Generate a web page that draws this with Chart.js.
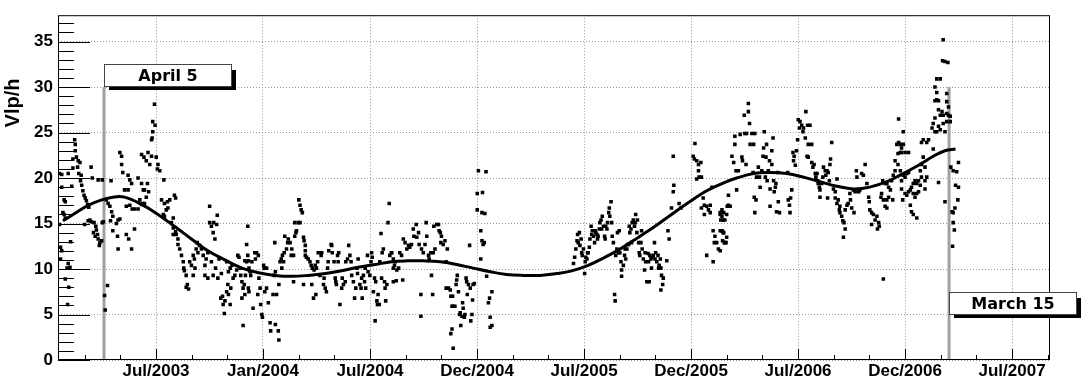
<!DOCTYPE html>
<html>
<head>
<meta charset="utf-8">
<script src="https://cdn.jsdelivr.net/npm/chart.js@4.4.0/dist/chart.umd.min.js"></script>
<style>
  html, body { margin: 0; padding: 0; background: #fff; }
</style>
</head>
<body>
<canvas id="vlpChart" width="1087" height="379"></canvas>
<script>
// x values are days counted from 1 Jan 2003
const xMin = 15.6, xMax = 1706;
const yMin = 0, yMax = 37.9;

const tickDays = [182.6, 364.9, 547.3, 729.6, 912.0, 1094.3, 1276.6, 1459.0, 1641.3];
const tickLabels = ['Jul/2003', 'Jan/2004', 'Jul/2004', 'Dec/2004', 'Jul/2005', 'Dec/2005', 'Jul/2006', 'Dec/2006', 'Jul/2007'];
const vlpTicks = [0, 5, 10, 15, 20, 25, 30, 35];

const markerDays = [94, 1534];
const markerNames = ['April 5', 'March 15'];
const markerTop = 30;

// daily Vlp/h readings, [day, value]
const obs2003 = [
  [18,20.5],[22,20.4],[33,20.5],[22,19.0],[39,19.1],[26,17.6],[28,17.4],[24,16.2],[26,16.0],[28,15.6],[18,14.9],[37,13.0],[20,12.4],[22,12.0],[20,11.1],[33,10.6],[36,10.2],[31,10.1],[28,8.9],[34,8.0],[32,6.1],
  [44,24.2],[45,23.7],[45,23.0],[41,22.1],[47,22.3],[50,21.9],[53,21.7],[41,21.1],[49,21.2],[51,20.5],[55,20.3],[54,19.7],[56,19.2],[58,18.6],[60,18.1],[62,17.8],[64,17.5],[66,17.1],[68,16.8],[72,21.2],[74,20.0],[91,19.8],[84,19.8],
  [61,14.9],[67,15.3],[72,15.2],[77,15.1],[80,14.7],[81,14.3],[83,13.8],[84,13.3],[87,12.9],[90,13.1],[91,15.1],[93,15.2],[76,14.0],[79,13.6],[70,15.4],[86,12.6],
  [95,7.1],[96,5.5],[100,8.2],
  [98,17.6],[101,17.2],[104,16.9],[107,16.3],[109,15.8],[115,15.0],[118,15.4],[117,13.6],[118,12.2],[121,15.5],[106,19.7],[105,15.3],[109,14.2],[132,13.8],[136,13.3],[141,12.2],[146,14.4],
  [121,22.8],[124,22.4],[124,21.5],[126,20.6],[135,20.3],[138,19.8],[141,19.4],[135,18.7],[129,18.7],[132,16.9],[138,17.0],[142,16.6],[146,16.6],[152,16.6],[155,17.6],[158,17.1],[160,17.2],[163,17.2],[166,17.9],[152,20.0],[158,19.4],[161,18.7],[168,19.4],[163,18.7],[170,18.5],[158,22.6],[162,22.3],[169,22.8],[175,22.4],[166,21.9],[172,21.5],
  [180,28.1],[177,26.2],[181,25.8],[177,25.1],[176,24.4],[175,24.2],[183,22.3],[186,21.5],[185,21.0],[189,20.8],[196,19.8],
  [192,17.6],[197,17.2],[202,17.4],[206,17.6],[214,18.1],[216,17.8],[203,16.7],[195,16.0],[197,15.8],[200,16.5],[212,15.6],[209,15.1],[212,14.5],[216,14.1],[217,13.8],[212,13.8],[220,13.3],[220,12.7],[223,12.2],[226,11.5],[229,10.8],[230,10.1],[231,9.8],[234,9.3],[236,8.3],[238,7.8],[234,8.0],
  [240,10.8],[243,10.4],[246,11.5],[248,11.1],[249,10.1],[246,9.3],[251,12.2],[254,11.8],[257,12.6],[260,12.2],[253,12.9],[263,11.5],[266,10.4],[268,11.1],[271,11.8],[274,16.9],[274,15.1],[277,14.7],[280,14.0],[283,13.3],[286,14.9],[287,15.9],[281,15.1],
  [266,9.3],[271,9.0],[277,10.8],[280,9.3],[284,10.1],[288,9.0],[290,11.1],[294,9.5],[296,7.0],[300,6.5],[299,5.1],[293,6.8],[297,6.1]
];

const obs2004 = [
  [303,10.8],[306,9.7],[309,10.1],[312,10.4],[305,8.3],[303,7.5],[306,7.2],[309,6.1],[310,7.9],[314,9.0],[317,9.3],[320,9.9],[322,11.5],[324,11.3],[326,10.1],[327,9.3],[329,8.6],[331,7.9],[333,8.3],[334,7.2],[335,9.3],[337,12.7],[339,14.7],[339,11.5],[340,10.9],[341,10.1],[343,9.7],[344,9.3],[340,7.9],[341,7.5],[329,6.8],[331,3.8],[337,10.8],[334,10.9],[346,10.8],[348,5.7],
  [351,11.8],[352,11.1],[354,11.8],[357,11.5],[358,9.0],[356,7.2],[360,7.9],[361,6.1],[363,5.0],[364,4.7],[366,10.4],[367,10.1],[368,7.5],[371,10.1],[371,7.9],[374,6.3],[377,4.1],[378,3.2],[382,7.2],[384,9.3],[385,12.9],[386,9.7],[386,3.9],[388,7.2],[391,3.2],[392,2.2],[392,8.3],[394,10.8],[396,11.1],[397,10.1],[398,11.5],[400,10.8],
  [401,11.8],[402,13.6],[405,12.2],[407,12.9],[408,13.3],[411,12.9],[413,11.5],[414,12.2],[417,11.5],[417,8.6],[419,13.6],[421,14.0],[422,14.2],[419,15.1],[425,15.1],[428,15.1],[426,17.6],[428,17.0],[430,16.5],[432,16.2],[434,13.5],[435,13.1],[437,12.6],[437,12.0],[434,8.3],[437,11.5],[439,11.3],[442,11.1],[445,10.8],[447,10.4],[448,8.3],[449,10.1],[451,6.8],[452,9.9],[454,10.4],[455,7.2],[456,10.1],[458,10.8],[459,11.8],
  [462,9.3],[464,11.5],[465,11.8],[468,8.3],[469,9.0],[471,7.9],[473,7.5],[475,10.1],[476,10.8],[477,12.0],[481,12.7],[482,12.6],[483,11.8],[486,10.8],[488,9.0],[489,8.6],[490,8.3],[492,11.5],[493,10.8],[494,11.8],[496,6.1],[499,7.9],[500,9.0],[502,8.3],[505,8.6],[506,10.8],[509,11.1],[511,12.6],[513,11.5],[515,10.8],[516,9.3],[519,8.6],[521,6.8],[523,7.9],[525,10.1],[526,9.5],[527,11.1],
  [530,8.3],[532,7.9],[533,9.0],[534,6.8],[536,9.3],[538,8.6],[539,10.1],[540,7.9],[543,11.5],[544,9.7],[547,9.3],[549,10.8],[550,11.8],[551,11.3],[553,7.5],[555,9.0],[556,4.3],[557,8.6],[559,6.5],[560,6.1],[561,7.2],[563,6.1],[564,10.8],[566,13.9],[567,9.0],[568,11.8],[570,12.2],[572,8.6],[573,7.9],[574,6.5],[576,8.3],[578,15.1],[580,17.2],[581,11.5],[584,11.8],[587,10.1],[589,10.4],[587,8.6]
];

const obs2004b = [
  [584,11.8],[587,11.1],[590,10.8],[593,9.9],[596,10.1],[592,8.7],[603,8.8],[598,11.8],[601,11.5],[604,13.3],[607,12.9],[610,12.2],[613,12.6],[615,12.4],[618,12.7],[621,14.4],[622,13.6],[626,14.9],[627,13.5],[630,14.0],[631,12.7],[634,7.2],[634,4.8],[635,12.2],[638,11.8],[641,12.7],[643,15.1],[644,13.6],[647,11.5],[648,11.1],[651,11.8],[652,9.3],[654,7.2],[655,11.8],[656,14.7],[658,12.2],[661,14.9],[664,14.9],[665,14.2],[667,14.0],[668,12.9],[669,13.6],[672,12.7],[675,13.1],[677,10.8],[679,12.2],
  [677,7.9],[681,7.9],[684,7.7],[685,7.0],[687,5.9],[688,7.0],[689,5.9],[687,3.4],[685,2.9],[689,1.3],[692,5.9],[694,8.3],[695,8.8],[696,9.3],[698,7.5],[700,5.0],[701,5.2],[702,3.8],[704,4.8],[705,6.3],[706,5.7],[708,4.7],[709,5.0],[711,9.0],[712,8.6],[713,7.2],[715,8.3],[717,12.6],[718,7.9],[719,4.3],[721,5.0],[722,6.6],[723,8.3],[725,8.4],
  [732,20.8],[745,20.7],[730,18.3],[739,18.4],[730,16.5],[738,16.2],[743,16.1],[736,14.2],[738,13.1],[740,12.7],[742,12.9],[736,11.1],[746,9.2],[749,6.3],[751,6.8],[755,7.5],[752,4.7],[755,3.8],[752,3.6]
];

const obs2005 = [
  [894,10.6],[896,11.3],[898,12.2],[900,13.1],[901,13.8],[902,12.9],[904,14.0],[905,12.6],[907,13.3],[908,11.8],[909,11.5],[911,12.2],[913,9.5],[914,10.8],[915,11.3],[917,11.1],[918,11.8],[919,11.8],[921,12.4],[922,13.3],[924,14.7],[925,13.8],[926,14.2],[928,13.6],[930,12.9],[931,14.2],[932,14.0],[934,13.8],[935,13.3],[936,13.6],[938,14.4],[939,15.1],[941,15.4],[942,14.4],[943,15.8],[945,14.7],[947,13.6],[948,13.3],[949,14.7],[951,14.4],[952,15.1],[954,16.2],[955,16.7],[956,15.8],[958,17.4],[959,15.1],[960,13.6],[962,12.9],
  [964,7.2],[965,6.5],[966,11.5],[968,12.2],[969,14.0],[971,11.8],[972,14.2],[973,11.8],[975,10.8],[976,9.9],[976,9.2],[979,10.4],[981,11.5],[982,12.2],[983,11.1],[985,12.2],[986,12.7],[988,12.7],[989,14.7],[990,14.0],[992,14.4],[993,12.9],[994,15.1],[996,15.4],[998,14.7],[999,15.1],[1000,16.0],[1002,14.0],[1003,15.4],[1005,12.9],[1006,11.8],[1007,11.5],[1009,12.9],[1010,14.2],[1011,12.2],
  [1013,11.1],[1015,9.9],[1016,11.8],[1017,10.8],[1019,8.6],[1021,11.7],[1022,10.8],[1023,8.6],[1024,11.5],[1026,11.1],[1027,10.1],[1028,11.3],[1030,11.5],[1032,12.9],[1033,11.1],[1034,11.8],[1036,10.8],[1038,11.5],[1039,10.1],[1040,10.4],[1042,11.1],[1043,10.1],[1044,9.3],[1046,8.3],[1047,9.0],[1043,7.7],
  [1053,10.9],[1055,14.2],[1057,13.3],[1061,16.7],[1064,18.5],[1065,19.2],[1064,22.4],[1074,17.2],[1077,16.7],
  [1101,23.8],[1098,22.4],[1100,22.1],[1104,21.9],[1107,21.5],[1111,21.7],[1107,20.8],[1108,20.1],[1112,20.1],[1104,19.9],[1115,17.8],[1112,16.7],[1117,17.0],[1121,16.9],[1124,16.5],[1127,17.0],[1130,19.0],[1117,16.0],[1127,16.2],[1132,14.2],[1135,13.6],[1134,12.9],[1138,12.9],[1141,12.2],[1121,11.5],[1132,10.8],[1144,16.2],[1147,16.5],[1145,15.4],[1149,15.4],[1147,14.2],[1149,14.0],[1151,12.9],[1144,14.2]
];

const obs2006 = [
  [1144,16.0],[1147,15.8],[1150,16.2],[1152,15.4],[1155,16.0],[1156,16.9],[1158,17.0],[1161,16.9],[1147,14.2],[1150,14.0],[1152,12.9],[1155,13.5],[1148,13.1],[1154,12.9],[1144,12.0],
  [1158,18.1],[1164,22.4],[1167,21.7],[1169,24.6],[1169,23.7],[1171,20.8],[1172,18.7],[1175,20.8],[1178,24.8],[1181,22.3],[1182,21.9],[1185,26.9],[1186,24.9],[1188,21.5],[1189,24.9],[1192,27.3],[1192,28.2],[1194,26.0],[1195,23.7],[1198,24.9],[1201,23.7],[1203,24.9],[1200,20.6],[1202,17.9],[1205,17.6],[1203,16.2],
  [1206,20.1],[1209,21.2],[1211,20.1],[1212,19.0],[1215,20.8],[1217,22.4],[1218,23.3],[1219,25.1],[1221,20.1],[1222,22.3],[1223,23.7],[1224,19.7],[1226,20.8],[1228,21.9],[1229,18.8],[1229,16.9],[1232,23.0],[1232,21.5],[1234,24.4],[1235,19.7],[1236,18.5],[1238,19.0],[1239,19.4],[1240,16.3],[1242,20.6],[1243,17.4],[1245,16.2],
  [1259,20.6],[1260,17.6],[1262,17.0],[1263,16.2],[1264,17.8],[1266,18.7],[1268,22.8],[1269,21.9],[1270,22.4],[1272,21.4],[1274,23.0],[1276,24.2],[1277,26.4],[1279,25.5],[1280,26.2],[1283,25.8],[1285,25.1],[1286,25.5],[1289,24.4],[1290,27.3],[1293,25.8],[1294,23.7],[1297,25.8],[1300,23.7],[1292,22.4],[1294,22.3],[1300,21.7],[1302,21.2],[1304,21.5],
  [1306,20.5],[1307,20.1],[1309,20.5],[1310,19.7],[1311,19.4],[1313,19.0],[1314,17.9],[1314,18.7],[1317,19.4],[1319,20.1],[1320,21.2],[1323,20.8],[1324,20.3],[1326,20.8],[1328,20.6],[1327,17.8],[1330,19.7],[1331,21.5],[1332,22.1],[1334,23.9],[1337,18.8],[1340,18.5],[1343,19.9],[1340,17.8],[1343,17.2],[1345,17.6],[1348,16.9],[1347,16.5],[1348,16.2],[1351,15.8],[1353,15.3],[1355,15.1],[1357,14.4],[1354,13.5],
  [1357,16.5],[1360,17.0],[1362,17.2],[1365,18.3],[1366,17.6],[1368,16.7],[1371,18.7],[1372,16.2],[1374,18.5],[1376,20.8],[1377,20.1],[1380,18.5],[1382,18.7],[1385,20.5],[1388,20.3],[1391,21.5],[1394,19.4],[1397,17.9],[1398,17.4],[1399,16.5],[1402,16.2],[1405,16.0],[1408,15.4],[1411,15.8],[1412,14.4],[1414,15.1],[1415,14.7],[1418,17.9],[1419,18.3],[1421,19.7],[1422,17.6],[1425,19.4],[1425,16.9],[1422,8.9],[1402,14.9]
];

const obs2007 = [
  [1428,19.4],[1431,19.0],[1434,18.7],[1428,17.6],[1431,17.9],[1436,19.7],[1439,20.3],[1442,20.8],[1438,17.6],[1428,16.7],[1448,26.5],[1456,25.1],[1445,23.7],[1448,23.9],[1451,23.7],[1453,23.3],[1456,23.7],[1447,22.7],[1451,22.8],[1453,22.8],[1459,22.8],[1465,22.8],[1442,21.9],[1447,21.5],[1451,20.8],[1453,19.7],[1456,20.3],[1459,20.1],[1462,20.5],[1465,20.6],
  [1453,18.8],[1455,17.6],[1459,18.3],[1462,18.1],[1465,18.5],[1468,18.7],[1470,19.0],[1473,19.4],[1476,19.7],[1479,19.4],[1482,19.7],[1473,18.3],[1476,17.9],[1479,18.3],[1482,18.5],[1485,20.8],[1487,21.5],[1490,22.3],[1493,21.2],[1485,19.2],[1487,20.1],[1493,19.7],[1496,20.1],[1493,18.8],[1468,17.0],[1470,16.3],[1473,16.0],[1479,15.6],
  [1487,23.9],[1490,24.2],[1496,23.9],[1499,24.2],[1507,23.2],[1505,25.5],[1510,25.1],[1513,25.1],[1516,25.7],[1519,25.3],[1524,26.0],[1527,25.1],[1530,26.2],[1507,26.0],[1510,26.6],[1516,27.5],[1519,26.9],[1522,27.3],[1524,26.9],[1530,27.1],[1533,26.9],[1536,26.8],[1536,26.2],
  [1510,28.5],[1513,28.6],[1516,28.5],[1513,29.4],[1510,30.0],[1513,30.9],[1519,30.9],[1523,32.9],[1527,32.8],[1532,32.7],[1524,35.2],[1530,29.3],[1530,28.4],[1533,27.8],[1516,19.5],[1527,17.4],
  [1537,21.2],[1541,20.8],[1547,20.7],[1550,21.7],[1545,19.2],[1550,19.0],[1549,17.6],[1544,16.7],[1541,16.2],[1539,16.3],[1541,15.1],[1543,14.3],[1540,12.5]
];

// smooth fit through the readings, [day, value]
const fitCurve = [
  [24,15.3],[44,16.1],[67,17.0],[90,17.6],[109,17.9],[129,17.9],[158,17.1],[186,16.0],[214,14.7],[243,13.3],[271,12.0],[300,11.0],
  [329,10.1],[357,9.6],[385,9.3],[414,9.2],[442,9.3],[471,9.5],[499,9.8],[527,10.2],[556,10.5],[584,10.8],[610,10.9],[638,10.9],
  [667,10.8],[695,10.5],[723,10.1],[752,9.7],[780,9.4],[809,9.3],[837,9.3],[865,9.5],[891,9.8],[919,10.4],[948,11.3],[976,12.3],
  [1005,13.5],[1033,14.7],[1061,16.0],[1090,17.3],[1118,18.5],[1147,19.4],[1172,20.0],[1201,20.5],[1229,20.6],[1257,20.5],[1286,20.1],
  [1314,19.6],[1343,19.1],[1371,18.8],[1399,19.0],[1428,19.6],[1453,20.4],[1482,21.4],[1510,22.5],[1527,23.0],[1545,23.2]
];

const toXY = pairs => pairs.map(([d, v]) => ({ x: d, y: v }));
const observations = toXY([].concat(obs2003, obs2004, obs2004b, obs2005, obs2006, obs2007));

const tickFont = { family: 'Liberation Sans', size: 17, weight: 'bold' };

// inward ticks, frame, axis title and the two date tags
const rootFrame = {
  id: 'rootFrame',
  beforeDatasetsDraw(chart) {
    const { ctx, chartArea: a, scales: { x, y } } = chart;
    ctx.save();
    ctx.strokeStyle = '#000';
    ctx.lineWidth = 1;
    ctx.beginPath();
    for (let v = 0; v <= 37; v++) {
      const py = Math.round(y.getPixelForValue(v)) + 0.5;
      const len = v % 5 === 0 ? 32 : 16;
      ctx.moveTo(a.left, py);
      ctx.lineTo(a.left + len, py);
    }
    const step = (tickDays[tickDays.length - 1] - tickDays[0]) / (tickDays.length - 1) / 3;
    let start = tickDays[0];
    let k = 0;
    while (start - step >= xMin) { start -= step; k++; }
    for (let d = start, i = -k; d <= xMax; d += step, i++) {
      const px = Math.round(x.getPixelForValue(d)) + 0.5;
      const len = ((i % 3) + 3) % 3 === 0 ? 11 : 5;
      ctx.moveTo(px, a.bottom);
      ctx.lineTo(px, a.bottom - len);
    }
    ctx.stroke();
    ctx.restore();
  },
  afterDatasetsDraw(chart) {
    const { ctx, chartArea: a, scales: { x, y } } = chart;
    ctx.save();
    ctx.strokeStyle = '#000';
    ctx.lineWidth = 1;
    ctx.strokeRect(a.left + 0.5, a.top + 0.5, a.right - a.left - 1, a.bottom - a.top - 1);

    ctx.translate(13, 103);
    ctx.rotate(-Math.PI / 2);
    ctx.fillStyle = '#000';
    ctx.font = 'bold 20px "Liberation Sans"';
    ctx.textAlign = 'center';
    ctx.textBaseline = 'middle';
    ctx.fillText('Vlp/h', 0, 0);
    ctx.restore();

    const tagBottoms = [markerTop, 5];
    markerDays.forEach((d, i) => {
      const left = Math.round(x.getPixelForValue(d));
      const bottom = Math.round(y.getPixelForValue(tagBottoms[i]));
      drawTag(ctx, left, bottom, markerNames[i]);
    });
  }
};

function drawTag(ctx, left, bottom, text) {
  const w = 128, h = 23, top = bottom - h;
  ctx.save();
  ctx.fillStyle = '#000';
  ctx.fillRect(left + 5, top + 6, w - 1, h - 3);
  ctx.fillStyle = '#fff';
  ctx.fillRect(left, top, w, h);
  ctx.strokeStyle = '#444';
  ctx.lineWidth = 1;
  ctx.strokeRect(left + 0.5, top + 0.5, w - 1, h - 1);
  ctx.fillStyle = '#000';
  ctx.font = 'bold 16px "DejaVu Sans"';
  ctx.textAlign = 'center';
  ctx.textBaseline = 'middle';
  ctx.fillText(text, left + w / 2, top + h / 2 + 1);
  ctx.restore();
}

const markerLines = markerDays.map(d => ({
  data: [{ x: d, y: 0 }, { x: d, y: markerTop }],
  showLine: true,
  borderColor: '#a0a0a0',
  borderWidth: 3,
  pointRadius: 0,
  order: 2
}));

new Chart(document.getElementById('vlpChart'), {
  type: 'scatter',
  data: {
    datasets: [
      {
        data: toXY(fitCurve),
        showLine: true,
        borderColor: '#000',
        borderWidth: 3,
        pointRadius: 0,
        tension: 0.4,
        order: 0
      },
      {
        data: observations,
        pointStyle: 'rect',
        pointRadius: 2.5,
        backgroundColor: '#000',
        borderColor: '#000',
        borderWidth: 0,
        order: 1
      },
      ...markerLines
    ]
  },
  options: {
    responsive: false,
    animation: false,
    events: [],
    layout: { padding: { top: 8, right: 37, left: 0, bottom: 0 } },
    plugins: { legend: { display: false }, tooltip: { enabled: false } },
    scales: {
      x: {
        type: 'linear',
        min: xMin,
        max: xMax,
        afterBuildTicks: s => { s.ticks = tickDays.map(v => ({ value: v })); },
        afterFit: s => { s.height = 19; },
        grid: { color: '#999', lineWidth: 1, drawTicks: false },
        border: { display: false, dash: [1, 2] },
        ticks: {
          autoSkip: false,
          maxRotation: 0,
          padding: 1,
          color: '#000',
          font: tickFont,
          callback: (v, i) => tickLabels[i]
        }
      },
      y: {
        min: yMin,
        max: yMax,
        afterBuildTicks: s => { s.ticks = vlpTicks.map(v => ({ value: v })); },
        afterFit: s => { s.width = 58; },
        grid: { color: '#999', lineWidth: 1, drawTicks: false },
        border: { display: false, dash: [1, 2] },
        ticks: {
          padding: 5,
          color: '#000',
          font: tickFont,
          callback: v => String(v)
        }
      }
    }
  },
  plugins: [rootFrame]
});
</script>
</body>
</html>
